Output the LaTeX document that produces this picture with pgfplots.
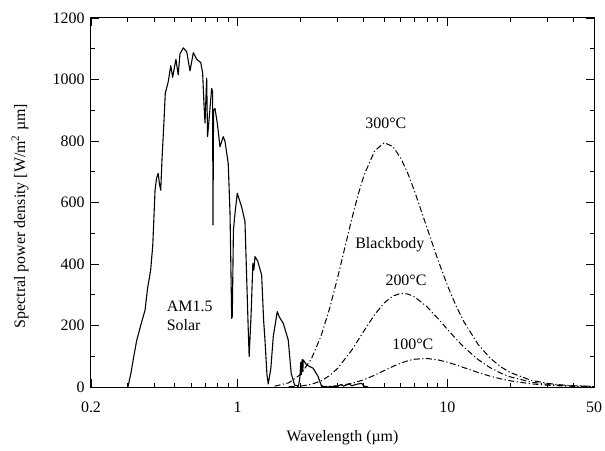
\documentclass[border=0pt]{standalone}
\usepackage{fontspec}
\setmainfont{Liberation Serif}
\usepackage{pgfplots}
\pgfplotsset{compat=1.18}
\begin{document}
\begin{tikzpicture}
\useasboundingbox (-91bp,-64bp) rectangle (514bp,387bp);
\begin{axis}[
  scale only axis, width=503bp, height=369bp,
  xmode=log, xmin=0.2, xmax=50, ymin=0, ymax=1200,
  xtick={0.2,1,10,50}, xticklabels={0.2,1,10,50},
  minor xtick={0.3,0.4,0.5,0.6,0.7,0.8,0.9,2,3,4,5,6,7,8,9,20,30,40},
  ytick={0,200,400,600,800,1000,1200},
  minor ytick={100,300,500,700,900,1100},
  tick align=inside, tick pos=both,
  major tick length=8bp, minor tick length=4bp,
  tick style={black, line width=0.9bp},
  axis line style={line width=1bp},
  tick label style={font=\fontsize{16}{18}\selectfont},
  xticklabel style={yshift=-11bp},
  yticklabel style={xshift=-3bp},
  label style={font=\fontsize{16}{18}\selectfont},
  /pgf/number format/assume math mode=true,
  /pgf/number format/1000 sep={},
  xlabel={Wavelength (µm)},
  ylabel={Spectral power density [W/m\textsuperscript{2} µm]},
  xlabel style={at={(axis description cs:0.5,-0.138)}, anchor=center},
  ylabel style={at={(axis description cs:-0.141,0.463)}, anchor=center},
  clip=true,
]
% AM1.5 solar
\addplot[black, line width=1.1bp, line join=round] coordinates {
(0.300,0) (0.310,45) (0.320,100) (0.330,150) (0.345,200) (0.362,250)
(0.372,320) (0.385,380) (0.394,460) (0.404,640) (0.411,680) (0.418,695)
(0.424,660) (0.430,640) (0.436,740) (0.446,870) (0.452,955) (0.467,993)
(0.480,1045) (0.490,1007) (0.508,1066) (0.521,1015) (0.531,1083) (0.551,1103)
(0.572,1090) (0.593,1028) (0.615,1087) (0.638,1066) (0.667,1055) (0.681,1022)
(0.691,923) (0.699,858) (0.712,1004) (0.719,814) (0.733,879) (0.752,971)
(0.760,960) (0.763,527) (0.768,900) (0.780,906) (0.800,858) (0.824,781)
(0.854,814) (0.870,800) (0.902,727) (0.920,565) (0.937,223) (0.943,229)
(0.955,510) (0.970,560) (0.996,630) (1.045,586) (1.084,538) (1.124,185)
(1.135,99) (1.160,240) (1.182,402) (1.195,380) (1.210,424) (1.246,410)
(1.302,364) (1.330,218) (1.350,153) (1.380,40) (1.400,10) (1.440,60)
(1.479,164) (1.545,245) (1.580,228) (1.651,207) (1.743,153) (1.800,45)
(1.870,6) (1.950,3) (1.980,30) (2.000,80) (2.010,40) (2.030,90)
(2.045,50) (2.055,88) (2.130,72) (2.290,61) (2.420,34) (2.500,6)
(2.600,0) (3.000,2) (3.100,8) (3.200,3) (3.400,10) (3.500,4)
(3.700,9) (3.900,12) (4.000,3) (4.200,0)
};
% 300 C
\addplot[black, line width=1bp, dash pattern=on 6bp off 2.5bp on 1.2bp off 2.5bp] coordinates {
(1.5,2.65) (1.75,13.4) (2,41.2) (2.25,92.3) (2.5,166.5) (2.75,257.6)
(3,356.9) (3.25,455.5) (3.5,546) (3.75,624.4) (4,687.6) (4.5,767.8)
(5,794.5) (5.5,782) (6,743.9) (6.5,692) (7,633.8) (8,517.2) (9,414.7)
(10,330.5) (11,263.9) (12,211.7) (14,138.8) (16,93.9) (18,65.2)
(20,46.6) (25,22.1) (30,11.76) (35,6.79) (40,4.18) (50,1.84)
};
% 200 C
\addplot[black, line width=1bp, dash pattern=on 6bp off 2.5bp on 1.2bp off 2.5bp] coordinates {
(1.75,0.65) (2,2.9) (2.25,8.73) (2.5,19.9) (2.75,37.4) (3,60.8)
(3.5,119.8) (4,182.2) (4.5,235.4) (5,273.6) (5.5,295.9) (6,304.4)
(6.5,302.2) (7,292.4) (8,260.7) (9,223.4) (10,187.6) (11,156.1)
(12,129.5) (14,89.4) (16,62.7) (18,44.8) (20,32.7) (25,16.1)
(30,8.77) (35,5.14) (40,3.21) (50,1.43)
};
% 100 C
\addplot[black, line width=1bp, dash pattern=on 6bp off 2.5bp on 1.2bp off 2.5bp] coordinates {
(2.5,0.76) (3,4.01) (3.5,11.65) (4,23.7) (4.5,38.4) (5,53.5)
(5.5,66.95) (6,77.8) (6.5,85.6) (7,90.4) (8,92.7) (9,88.4)
(10,80.7) (11,71.8) (12,62.9) (14,47.2) (16,35.2) (18,26.3)
(20,19.9) (25,10.4) (30,5.88) (35,3.54) (40,2.25) (50,1.03)
};
\node[font=\fontsize{16}{18}\selectfont] at (axis cs:5.09,858) {300°C};
\node[font=\fontsize{16}{18}\selectfont] at (axis cs:5.32,462) {Blackbody};
\node[font=\fontsize{16}{18}\selectfont] at (axis cs:6.35,348) {200°C};
\node[font=\fontsize{16}{18}\selectfont] at (axis cs:6.85,140) {100°C};
\node[font=\fontsize{16}{19}\selectfont, align=left, anchor=west, inner sep=0pt] at (axis cs:0.459,231) {AM1.5\\Solar};
\end{axis}
\end{tikzpicture}
\end{document}
